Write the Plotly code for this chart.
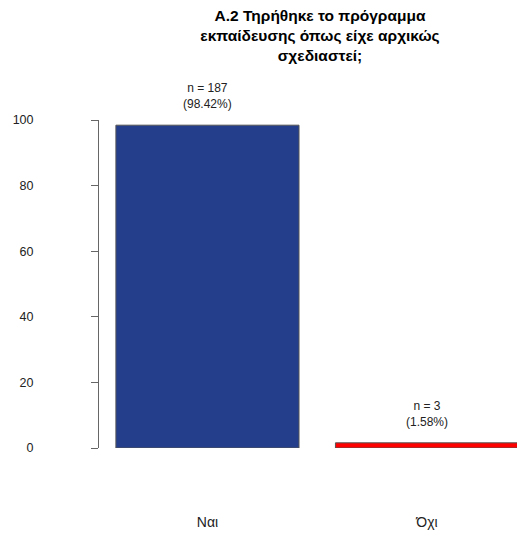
import plotly.graph_objects as go

categories = ["Ναι", "Όχι"]
percentages = [98.42, 1.58]
counts = [187, 3]
bar_colors = ["#243E8C", "#FF0000"]
y_ticks = [0, 20, 40, 60, 80, 100]

FONT = "Liberation Sans, Arial, sans-serif"
W, H = 517, 534

fig = go.Figure()
fig.add_trace(go.Bar(
    x=categories,
    y=percentages,
    marker=dict(color=bar_colors, line=dict(color="#555555", width=1)),
    hoverinfo="skip",
))

for c, p, n in zip(categories, percentages, counts):
    fig.add_annotation(
        x=c, y=p, xref="x", yref="y",
        text=f"n = {n}<br>({p:.2f}%)",
        showarrow=False, yanchor="bottom", yshift=12,
        font=dict(family=FONT, size=12, color="#222222"),
        align="center",
    )

fig.update_layout(
    width=W, height=H,
    margin=dict(l=99, r=0, t=120, b=86, autoexpand=False),
    paper_bgcolor="white", plot_bgcolor="white",
    showlegend=False,
    bargap=0.166,
    font=dict(family=FONT, size=12, color="#222222"),
    title=dict(
        text="<b>Α.2 Τηρήθηκε το πρόγραμμα<br>εκπαίδευσης όπως είχε αρχικώς<br>σχεδιαστεί;</b>",
        x=320 / W, xanchor="center",
        y=1 - 21 / H, yanchor="top",
        font=dict(family=FONT, size=15.5, color="#000000"),
    ),
    xaxis=dict(
        range=[-0.494, 1.41],
        showline=False, showgrid=False, zeroline=False,
        ticks="", ticklabelstandoff=64, automargin=False,
        tickfont=dict(family=FONT, size=14, color="#222222"),
    ),
    yaxis=dict(
        range=[0, 100],
        tickvals=y_ticks,
        showline=True, linecolor="#666666", linewidth=1,
        ticks="outside", ticklen=7, tickcolor="#666666", tickwidth=1,
        showgrid=False, zeroline=False, automargin=False,
        ticklabelstandoff=55,
        tickfont=dict(family=FONT, size=12.5, color="#222222"),
    ),
)

fig.write_html(
    "out.html",
    config={"displayModeBar": False},
    post_script="document.body.style.margin='0';document.body.style.overflow='hidden';",
)
